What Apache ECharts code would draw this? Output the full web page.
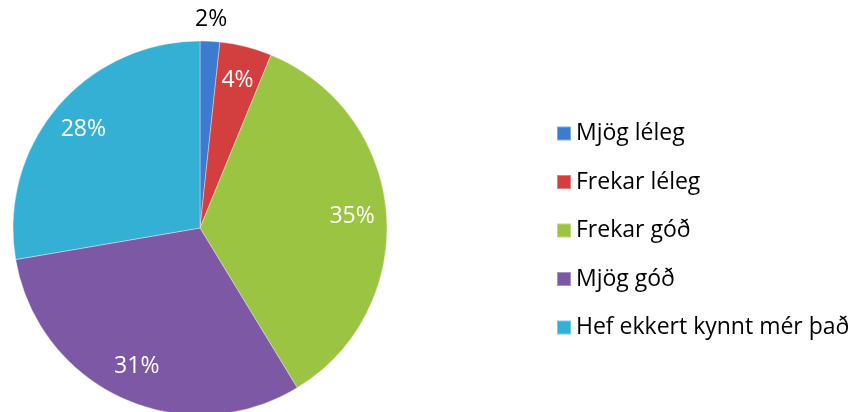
<!DOCTYPE html>
<html><head><meta charset="utf-8">
<script src="https://cdn.jsdelivr.net/npm/echarts@6/dist/echarts.min.js"></script>
<style>html,body{margin:0;padding:0;background:#fff}#c{width:850px;height:412px}</style>
</head><body><div id="c"></div>
<script>
const categories = ['Mjög léleg', 'Frekar léleg', 'Frekar góð', 'Mjög góð', 'Hef ekkert kynnt mér það'];
const values = [1.7, 4.5, 35.1, 31.0, 27.7];
const labels = ['2%', '4%', '35%', '31%', '28%'];
const colors = ['#3b7cd0', '#d33f3f', '#9cc443', '#7c58a5', '#34b0d5'];

const R = 187;
const C = [200, 228];
const font = '"Open Sans", Lato, sans-serif';

const baseData = categories.map((n, i) => ({name: n, value: values[i], itemStyle: {color: colors[i]}}));
const innerLabelData = categories.map((n, i) => ({
  name: n, value: values[i],
  label: {show: i !== 0, formatter: labels[i]}
}));
const outerLabelData = categories.map((n, i) => ({
  name: n, value: values[i],
  label: {show: i === 0, formatter: labels[i]}
}));

const chart = echarts.init(document.getElementById('c'), null, {renderer: 'canvas'});
chart.setOption({
  animation: false,
  legend: {
    orient: 'vertical', left: 551, top: 117,
    icon: 'rect', itemWidth: 14, itemHeight: 14, itemGap: 25.5,
    data: categories,
    textStyle: {fontFamily: font, fontSize: 23, lineHeight: 20, color: '#000'},
    selectedMode: false
  },
  series: [
    {
      type: 'pie', radius: [0, R], center: C, startAngle: 90, clockwise: true,
      label: {show: false}, labelLine: {show: false},
      itemStyle: {borderColor: 'rgba(255,255,255,0.35)', borderWidth: 1},
      emphasis: {disabled: true},
      data: baseData
    },
    {
      type: 'pie', radius: [R * 0.6, R], center: C, startAngle: 90, clockwise: true, silent: true,
      itemStyle: {color: 'rgba(0,0,0,0)'},
      label: {position: 'inside', color: '#fff', fontFamily: font, fontSize: 23},
      labelLine: {show: false}, emphasis: {disabled: true},
      data: innerLabelData
    },
    {
      type: 'pie', radius: [R, R * 1.2], center: C, startAngle: 90, clockwise: true, silent: true,
      itemStyle: {color: 'rgba(0,0,0,0)'},
      label: {position: 'inside', color: '#000', fontFamily: font, fontSize: 23},
      labelLine: {show: false}, emphasis: {disabled: true},
      data: outerLabelData
    }
  ]
});
</script></body></html>
